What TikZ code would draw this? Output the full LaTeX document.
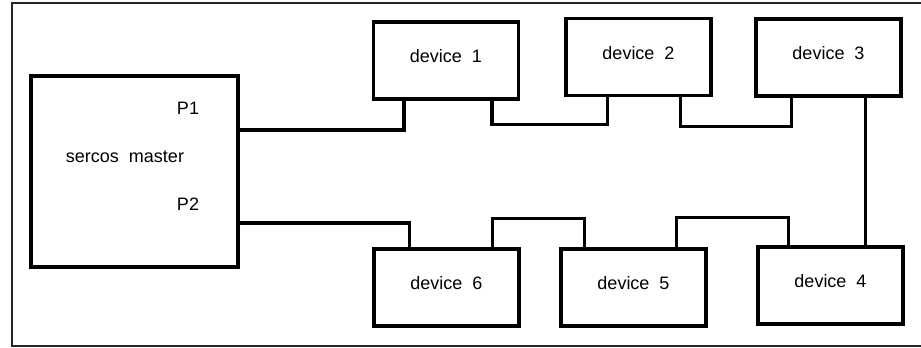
\documentclass[tikz,border=0pt]{standalone}
\usepackage{fontspec}
\setmainfont{Liberation Sans}
\usetikzlibrary{calc,positioning}

\begin{document}
\begin{tikzpicture}[x=0.75pt,y=-0.75pt,
every node/.style={font=\fontsize{13.5}{16}\selectfont},
box/.style={draw, line width=2.6pt, minimum width=108.75pt, minimum height=57.75pt, text depth=6.4pt},
wire/.style={line width=2.6pt}]
\useasboundingbox (0,0) rectangle (921,347);
\draw[line width=1.5pt, black!85] (921,3)--(11.5,3)--(11.5,345.5)--(921,345.5);
\node[box, minimum width=155.25pt, minimum height=143.25pt] (M) at (134.5,171.5) {};
\node (P1) at (188,108) {P1};
\node (SM) at (125,157) {sercos~~master};
\node (P2) at (188,204) {P2};
\node[box] (D1) at (446,60.5) {device~~1};
\node[box] (D2) at (638.5,57) {device~~2};
\node[box] (D3) at (828.5,57.5) {device~~3};
\node[box] (D4) at (830.5,285.5) {device~~4};
\node[box] (D5) at (633.5,287.5) {device~~5};
\node[box] (D6) at (446.5,287.5) {device~~6};
\draw[wire] ($(M.east)+(0,-41.5)$) -| ($(D1.south west)+(32,0)$);
\draw[wire] ($(D1.south west)+(120,0)$) -- ++(0,24) -| ($(D2.south west)+(43,0)$);
\draw[wire] ($(D2.south west)+(116,0)$) -- ++(0,29) -| ($(D3.south west)+(37,0)$);
\draw[wire] ($(D3.south west)+(111,0)$) coordinate (C34) -- (C34 |- D4.north);
\draw[wire] ($(D4.north west)+(32,0)$) -- ++(0,-28) -| ($(D5.north west)+(117,0)$);
\draw[wire] ($(D5.north west)+(25,0)$) -- ++(0,-29) -| ($(D6.north west)+(120,0)$);
\draw[wire] ($(D6.north west)+(37,0)$) |- ($(M.east)+(0,51.5)$);
\end{tikzpicture}
\end{document}
